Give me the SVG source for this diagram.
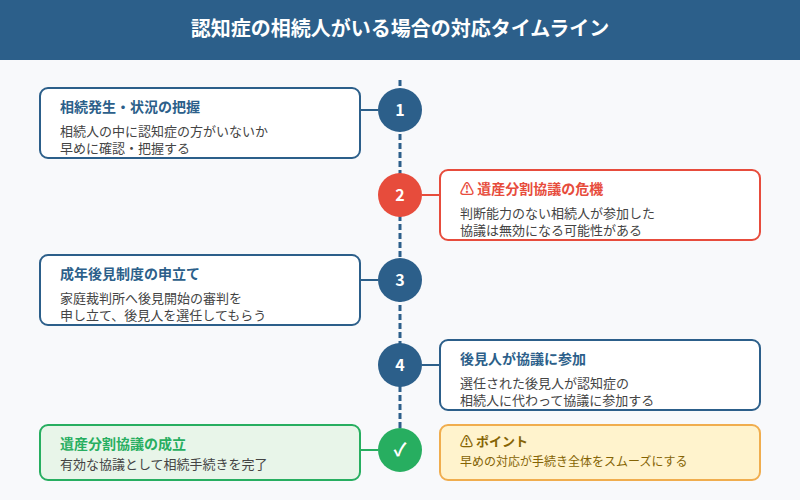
<svg xmlns="http://www.w3.org/2000/svg" width="800" height="500" viewBox="0 0 800 500">
<style>
text{font-family:"Noto Sans CJK JP","Noto Sans",sans-serif}
.h{font-size:14px;font-weight:700}
.b{font-size:13px;fill:#444}
.n{font-size:16px;font-weight:700;fill:#fff;text-anchor:middle}
.card{fill:#fff;stroke-width:2}
.blue{stroke:#2c5f8a}.red{stroke:#e74c3c}.green{stroke:#27ae60}
.tb{fill:#2c5f8a}.tr{fill:#e74c3c}.tg{fill:#27ae60}
.conn{stroke-width:2;fill:none}
</style>
<rect width="800" height="500" fill="#f8f9fb"/>
<rect width="800" height="60" fill="#2c5f8a"/>
<text x="400" y="36" text-anchor="middle" font-size="20" font-weight="700" fill="#fff">認知症の相続人がいる場合の対応タイムライン</text>
<g id="connectors">
<line x1="400" y1="80" x2="400" y2="450" stroke="#2c5f8a" stroke-width="3" stroke-dasharray="6 3"/>
<line class="conn blue" x1="360" y1="110" x2="378" y2="110"/>
<line class="conn red" x1="422" y1="195" x2="440" y2="195"/>
<line class="conn blue" x1="360" y1="280" x2="378" y2="280"/>
<line class="conn blue" x1="422" y1="365" x2="440" y2="365"/>
<line class="conn green" x1="360" y1="450" x2="378" y2="450"/>
</g>
<g id="step1">
<rect class="card blue" x="40" y="88" width="320" height="70" rx="8"/>
<text class="h tb" x="60" y="112">相続発生・状況の把握</text>
<text class="b" x="60" y="136">相続人の中に認知症の方がいないか</text>
<text class="b" x="60" y="153">早めに確認・把握する</text>
<circle cx="400" cy="110" r="22" fill="#2c5f8a"/><text class="n" x="400" y="116">1</text>
</g>
<g id="step2">
<rect class="card red" x="440" y="170" width="320" height="70" rx="8"/>
<text class="h tr" x="460" y="194">⚠ 遺産分割協議の危機</text>
<text class="b" x="460" y="218">判断能力のない相続人が参加した</text>
<text class="b" x="460" y="235">協議は無効になる可能性がある</text>
<circle cx="400" cy="195" r="22" fill="#e74c3c"/><text class="n" x="400" y="201">2</text>
</g>
<g id="step3">
<rect class="card blue" x="40" y="255" width="320" height="70" rx="8"/>
<text class="h tb" x="60" y="279">成年後見制度の申立て</text>
<text class="b" x="60" y="303">家庭裁判所へ後見開始の審判を</text>
<text class="b" x="60" y="320">申し立て、後見人を選任してもらう</text>
<circle cx="400" cy="280" r="22" fill="#2c5f8a"/><text class="n" x="400" y="286">3</text>
</g>
<g id="step4">
<rect class="card blue" x="440" y="340" width="320" height="70" rx="8"/>
<text class="h tb" x="460" y="364">後見人が協議に参加</text>
<text class="b" x="460" y="388">選任された後見人が認知症の</text>
<text class="b" x="460" y="405">相続人に代わって協議に参加する</text>
<circle cx="400" cy="365" r="22" fill="#2c5f8a"/><text class="n" x="400" y="371">4</text>
</g>
<g id="done">
<rect x="40" y="425" width="320" height="55" rx="8" fill="#e8f5e9" stroke="#27ae60" stroke-width="2"/>
<text class="h tg" x="60" y="449">遺産分割協議の成立</text>
<text class="b" x="60" y="469">有効な協議として相続手続きを完了</text>
<circle cx="400" cy="450" r="22" fill="#27ae60"/><text x="400" y="456" font-size="18" font-weight="700" fill="#fff" text-anchor="middle">✓</text>
</g>
<g id="point">
<rect x="440" y="425" width="320" height="55" rx="8" fill="#fff3cd" stroke="#f0ad4e" stroke-width="2"/>
<text x="460" y="446" font-size="13" font-weight="700" fill="#856404">⚠ ポイント</text>
<text x="460" y="466" font-size="12" fill="#856404">早めの対応が手続き全体をスムーズにする</text>
</g>
</svg>
